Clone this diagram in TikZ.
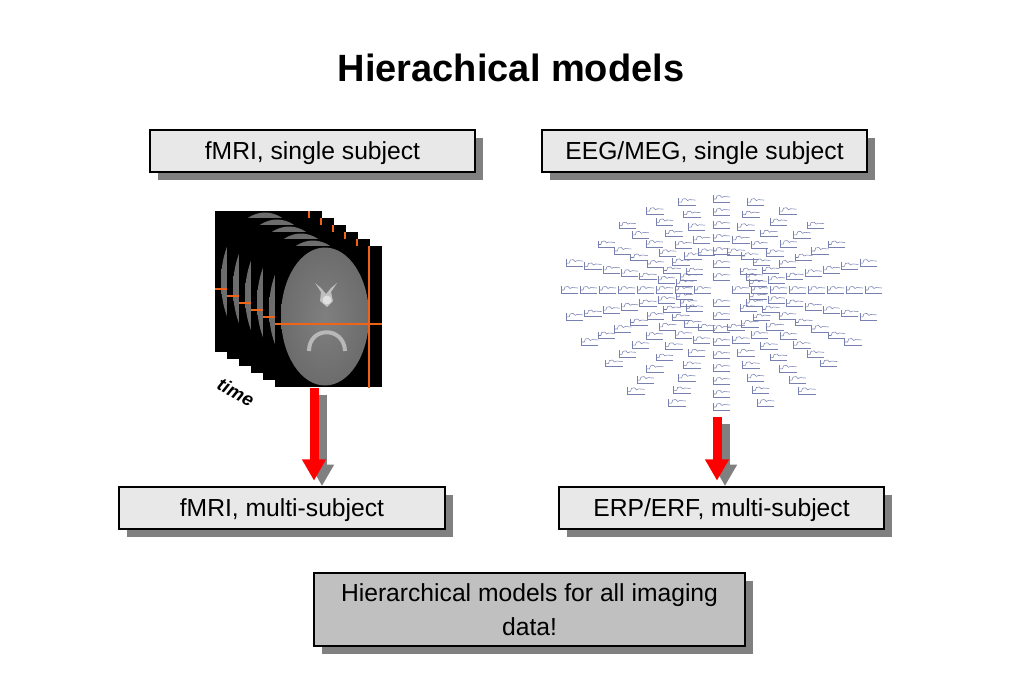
\documentclass[tikz,border=0pt]{standalone}
\usepackage{fontspec}
\setmainfont{Liberation Sans}
\usetikzlibrary{arrows.meta,shadows}

\definecolor{boxgray}{HTML}{E8E8E8}
\definecolor{notegray}{HTML}{C0C0C0}
\definecolor{crossorange}{HTML}{F06418}
\definecolor{tracecol}{HTML}{7880B0}
\colorlet{braincore}{black!50}
\colorlet{brainmid}{black!58}
\colorlet{brainedge}{black!78}
\pgfdeclareradialshading{brainglow}{\pgfpoint{0bp}{0bp}}{color(0bp)=(braincore); color(26bp)=(brainmid); color(40bp)=(brainedge); color(50bp)=(black)}

\begin{document}
\begin{tikzpicture}[x=0.75pt, y=-0.75pt,
    every node/.style = {font=\fontsize{18.5}{25.5}\selectfont},
    shadow box/.style = {draw, line width=1.5pt, inner sep=0pt,
        drop shadow={shadow xshift=6pt, shadow yshift=-6pt, fill=black!50, opacity=1}},
    label box/.style = {shadow box, fill=boxgray, minimum width=244pt,
        minimum height=31.5pt, text height=13.3pt, text depth=0pt},
    note box/.style = {shadow box, fill=notegray, minimum width=323pt,
        minimum height=55pt, align=center},
    slice/.style = {fill=black, inner sep=0pt, minimum width=80.25pt, minimum height=105.75pt},
    red arrow/.style = {draw=red, line width=6.75pt, -{Triangle[width=17pt, length=16pt]}},
    shadow arrow/.style = {red arrow, draw=black!50},
    erp/.pic = {
        \draw[tracecol, line width=0.4pt] (-8,-4) -- (-8,3) -- (9,3);
        \draw[tracecol, line width=0.4pt] (-8,0) -- (-5,0) -- (-4,-3) -- (-1,-3.5)
            -- (1,-1.5) -- (3,-2.5) -- (9,-2);
    }]
    \path[fill=white, use as bounding box] (0,0) rectangle (1023,682);

    % title
    \node[font=\fontsize{28.5}{34}\selectfont\bfseries] (title) at (511,68) {Hierachical models};

    % boxes
    \node[label box] (fmrisingle) at (312.5,151) {fMRI, single subject};
    \node[label box] (eegsingle) at (704.5,151) {EEG/MEG, single subject};
    \node[label box] (fmrimulti) at (282,508) {fMRI, multi-subject};
    \node[label box] (erpmulti) at (721.5,508) {ERP/ERF, multi-subject};
    \node[note box] (allnote) at (529.5,609.5) {Hierarchical models for all imaging\\data!};

    % stack of fMRI slices
    \foreach \k in {0,...,5} {
        \node[slice] (s\k) at ({268.5+12*\k}, {281.5+7*\k}) {};
        \shade[shading=brainglow] ({265+12*\k}, {281.5+7*\k}) ellipse (44 and 69);
        \draw[crossorange, line width=1.5pt] ({309+12*\k}, {211+7*\k}) -- ++(0,141);
        \draw[crossorange, line width=1.5pt] ({215+12*\k}, {289+7*\k}) -- ++(107,0);
    }
    \fill[black!25] (315,283) -- (321,292) -- (320,301) -- (327,307) -- (333,301)
        -- (331,292) -- (337,283) -- (331,288) -- (326,294) -- (321,288) -- cycle;
    \fill[black!12] (327,300) circle (4.5);
    \draw[black!28, line width=3pt] (309,351) .. controls (309,326) and (344,326) .. (345,351);
    \draw[crossorange, line width=1.5pt] (369,247) -- ++(0,141);
    \draw[crossorange, line width=1.5pt] (275,324) -- ++(107,0);
    \node[font=\fontsize{14}{16}\selectfont\bfseries\itshape, rotate=-28] (timelabel) at (236,392) {time};

    % EEG/MEG sensor traces
    \foreach \a/\s/\n in {0/1/8, 15/2/8, 30/2/7, 45/2/7, 60/3/7, 75/3/7, 90/1/7,
            105/3/7, 120/3/7, 135/2/7, 150/2/7, 165/2/8, 180/1/8,
            195/2/8, 210/2/8, 225/2/8, 240/3/9, 255/3/9, 270/1/9,
            285/3/9, 300/3/9, 315/2/8, 330/2/8, 345/2/8}
        \foreach \j in {\s,...,\n}
            \pic at ({721+19*\j*cos(\a)}, {290-13*\j*sin(\a)}) {erp};

    % arrows
    \coordinate (fstart) at (314,388);
    \coordinate (estart) at (717,417);
    \coordinate (fend) at (fstart |- fmrimulti.north);
    \coordinate (eend) at (estart |- erpmulti.north);
    \draw[shadow arrow] ([xshift=6pt, yshift=-5pt]fstart) -- ([xshift=6pt]fend);
    \draw[red arrow] (fstart) -- ([yshift=4pt]fend);
    \draw[shadow arrow] ([xshift=6pt, yshift=-5pt]estart) -- ([xshift=6pt]eend);
    \draw[red arrow] (estart) -- ([yshift=4pt]eend);
\end{tikzpicture}
\end{document}
